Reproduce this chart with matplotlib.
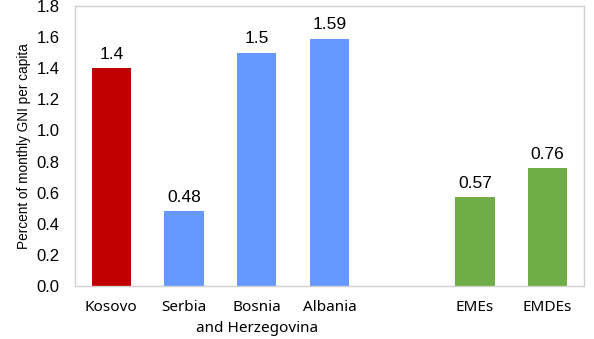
import matplotlib
matplotlib.use("Agg")
import matplotlib.pyplot as plt
import matplotlib.transforms as mtransforms

# cost of a transaction, by economy
categories = ["Kosovo", "Serbia", "Bosnia", "Albania", "", "EMEs", "EMDEs"]
second_line = {2: "and Herzegovina"}
values = [1.4, 0.48, 1.5, 1.59, None, 0.57, 0.76]
labels = ["1.4", "0.48", "1.5", "1.59", "", "0.57", "0.76"]
colors = ["#C00000", "#6699FF", "#6699FF", "#6699FF", "white", "#70AD47", "#70AD47"]

fig = plt.figure(figsize=(5.94, 3.39), dpi=100)
ax = fig.add_axes([75 / 594, 1 - 286 / 339, 509 / 594, 280 / 339])

x = list(range(len(categories)))
for i, v in enumerate(values):
    if v is None:
        continue
    ax.bar(i, v, width=0.54, color=colors[i], zorder=2)
    ax.text(i, v + 0.04, labels[i], ha="center", va="bottom",
            fontsize=12.5, family="Liberation Sans")

ax.set_xlim(-0.5, len(categories) - 0.5)
ax.set_ylim(0, 1.8)
ax.set_yticks([i / 5 for i in range(10)])
ax.set_yticklabels([f"{i / 5:.1f}" for i in range(10)], fontsize=12, family="Liberation Sans")
ax.set_xticks(x)
ax.set_xticklabels(categories, fontsize=11, family="Noto Sans")
ax.tick_params(length=0)
ax.tick_params(axis="y", pad=11)
ax.tick_params(axis="x", pad=10)
ax.set_ylabel("Percent of monthly GNI per capita", fontsize=9.8, family="Liberation Sans", labelpad=4)

# wrapped part of the long category name, on its own line
trans = mtransforms.blended_transform_factory(ax.transData, ax.transAxes)
for i, txt in second_line.items():
    ax.text(i, -0.153, txt, transform=trans, ha="center", va="center",
            fontsize=11, family="Noto Sans")

for s in ax.spines.values():
    s.set_color("#D0D0D0")
    s.set_linewidth(1)

fig.savefig("out.png", dpi=100)
